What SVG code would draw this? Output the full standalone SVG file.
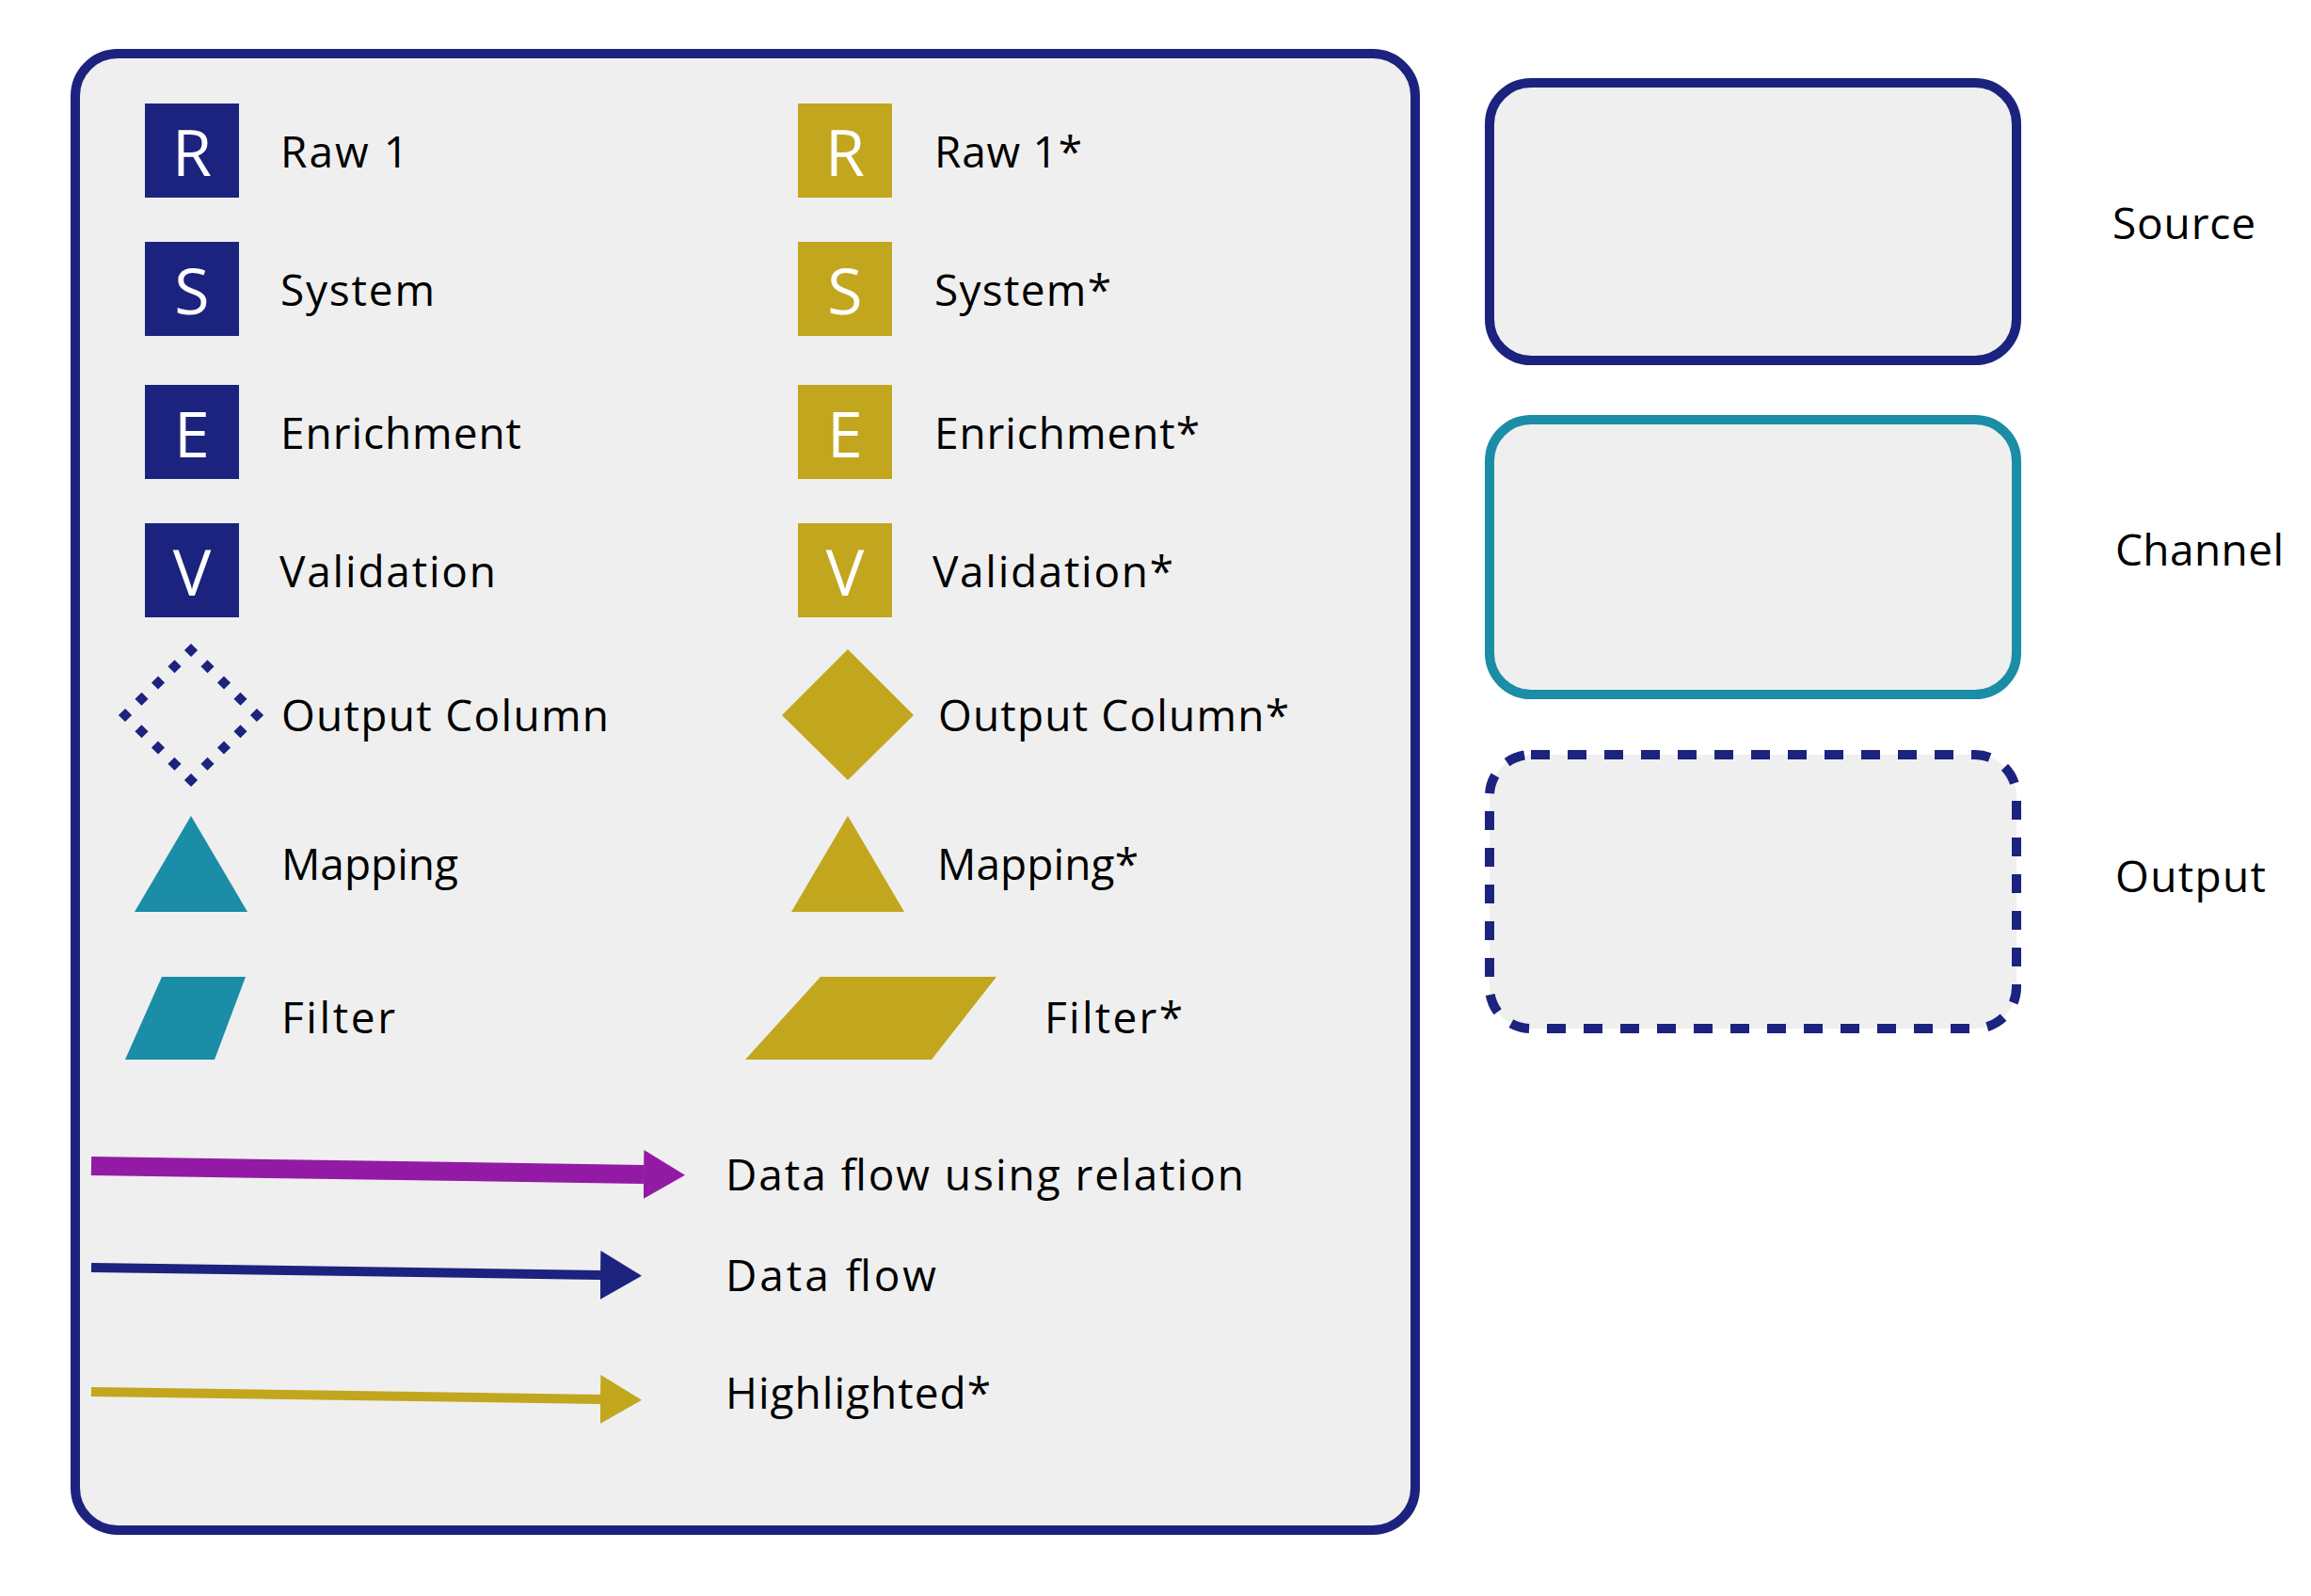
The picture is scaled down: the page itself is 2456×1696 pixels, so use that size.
<svg xmlns="http://www.w3.org/2000/svg" width="2456" height="1696" viewBox="0 0 2456 1696">
  <defs>
    <style>
      .panel { fill: #efefef; stroke: #1b237e; stroke-width: 10; }
      .navy { fill: #1b237e; }
      .gold { fill: #c2a61e; }
      .teal { fill: #1b8da6; }
      .glyph { font-family: "Open Sans", "Noto Sans", "DejaVu Sans", sans-serif; font-size: 68px; fill: #ffffff; text-anchor: middle; }
      .label { font-family: "Open Sans", "Noto Sans", "DejaVu Sans", sans-serif; font-size: 46px; fill: #000000; }
      .box { fill: #efefef; stroke-width: 10; }
    </style>
    <marker id="headPurple" viewBox="0 0 44 52" refX="0" refY="26" markerWidth="44" markerHeight="52" markerUnits="userSpaceOnUse" orient="auto">
      <path d="M0,0 L44,26 L0,52 Z" fill="#931aa5"/>
    </marker>
    <marker id="headNavy" viewBox="0 0 44 52" refX="0" refY="26" markerWidth="44" markerHeight="52" markerUnits="userSpaceOnUse" orient="auto">
      <path d="M0,0 L44,26 L0,52 Z" fill="#1b237e"/>
    </marker>
    <marker id="headGold" viewBox="0 0 44 52" refX="0" refY="26" markerWidth="44" markerHeight="52" markerUnits="userSpaceOnUse" orient="auto">
      <path d="M0,0 L44,26 L0,52 Z" fill="#c2a61e"/>
    </marker>
  </defs>
  <rect width="2456" height="1696" fill="#ffffff"/>

  <g id="legend-panel">
    <rect class="panel" x="80" y="57" width="1424" height="1569" rx="45" ry="45"/>
  </g>

  <g id="raw1">
    <rect class="navy" x="154" y="110" width="100" height="100"/>
    <text class="glyph" x="204" y="187">R</text>
    <text class="label" x="298" y="178" textLength="136" lengthAdjust="spacing">Raw 1</text>
  </g>
  <g id="system">
    <rect class="navy" x="154" y="257" width="100" height="100"/>
    <text class="glyph" x="204" y="334">S</text>
    <text class="label" x="298" y="325" textLength="164" lengthAdjust="spacing">System</text>
  </g>
  <g id="enrichment">
    <rect class="navy" x="154" y="409" width="100" height="100"/>
    <text class="glyph" x="204" y="486">E</text>
    <text class="label" x="298" y="477" textLength="256" lengthAdjust="spacing">Enrichment</text>
  </g>
  <g id="validation">
    <rect class="navy" x="154" y="556" width="100" height="100"/>
    <text class="glyph" x="204" y="633">V</text>
    <text class="label" x="297" y="624" textLength="230" lengthAdjust="spacing">Validation</text>
  </g>
  <g id="output-column">
    <polygon points="203,691 273,760 203,829 133,760" fill="none" stroke="#1b237e" stroke-width="10" stroke-dasharray="10 14.575" stroke-dashoffset="5"/>
    <text class="label" x="299" y="777" textLength="348" lengthAdjust="spacing">Output Column</text>
  </g>
  <g id="mapping">
    <polygon class="teal" points="203,867 263,969 143,969"/>
    <text class="label" x="299" y="935" textLength="188" lengthAdjust="spacing">Mapping</text>
  </g>
  <g id="filter">
    <polygon class="teal" points="172,1038 261,1038 228,1126 133,1126"/>
    <text class="label" x="299" y="1098" textLength="121" lengthAdjust="spacing">Filter</text>
  </g>

  <g id="raw1-star">
    <rect class="gold" x="848" y="110" width="100" height="100"/>
    <text class="glyph" x="898" y="187">R</text>
    <text class="label" x="993" y="178" textLength="157" lengthAdjust="spacing">Raw 1*</text>
  </g>
  <g id="system-star">
    <rect class="gold" x="848" y="257" width="100" height="100"/>
    <text class="glyph" x="898" y="334">S</text>
    <text class="label" x="993" y="325" textLength="188" lengthAdjust="spacing">System*</text>
  </g>
  <g id="enrichment-star">
    <rect class="gold" x="848" y="409" width="100" height="100"/>
    <text class="glyph" x="898" y="486">E</text>
    <text class="label" x="993" y="477" textLength="282" lengthAdjust="spacing">Enrichment*</text>
  </g>
  <g id="validation-star">
    <rect class="gold" x="848" y="556" width="100" height="100"/>
    <text class="glyph" x="898" y="633">V</text>
    <text class="label" x="991" y="624" textLength="256" lengthAdjust="spacing">Validation*</text>
  </g>
  <g id="output-column-star">
    <polygon class="gold" points="901,690 971,760 901,829 831,760"/>
    <text class="label" x="997" y="777" textLength="373" lengthAdjust="spacing">Output Column*</text>
  </g>
  <g id="mapping-star">
    <polygon class="gold" points="901,867 961,969 841,969"/>
    <text class="label" x="996" y="935" textLength="214" lengthAdjust="spacing">Mapping*</text>
  </g>
  <g id="filter-star">
    <polygon class="gold" points="872,1038 1059,1038 990,1126 792,1126"/>
    <text class="label" x="1110" y="1098" textLength="147" lengthAdjust="spacing">Filter*</text>
  </g>

  <g id="connectors">
    <line x1="97" y1="1239" x2="684" y2="1248" stroke="#931aa5" stroke-width="20" marker-end="url(#headPurple)"/>
    <line x1="97" y1="1347" x2="638" y2="1355" stroke="#1b237e" stroke-width="10" marker-end="url(#headNavy)"/>
    <line x1="97" y1="1479" x2="638" y2="1487" stroke="#c2a61e" stroke-width="10" marker-end="url(#headGold)"/>
  </g>
  <g id="connector-labels">
    <text class="label" x="771" y="1265" textLength="551" lengthAdjust="spacing">Data flow using relation</text>
    <text class="label" x="771" y="1372" textLength="224" lengthAdjust="spacing">Data flow</text>
    <text class="label" x="771" y="1497" textLength="282" lengthAdjust="spacing">Highlighted*</text>
  </g>

  <g id="source">
    <rect class="box" x="1583" y="88" width="560" height="295" rx="44" ry="44" stroke="#1b237e"/>
    <text class="label" x="2245" y="254" textLength="152" lengthAdjust="spacing">Source</text>
  </g>
  <g id="channel">
    <rect class="box" x="1583" y="446" width="560" height="292" rx="44" ry="44" stroke="#1b8da6"/>
    <text class="label" x="2248" y="601" textLength="179" lengthAdjust="spacing">Channel</text>
  </g>
  <g id="output">
    <rect class="box" x="1583" y="802" width="560" height="291" rx="44" ry="44" stroke="#1b237e" stroke-dasharray="20 19"/>
    <text class="label" x="2248" y="948" textLength="160" lengthAdjust="spacing">Output</text>
  </g>
</svg>
